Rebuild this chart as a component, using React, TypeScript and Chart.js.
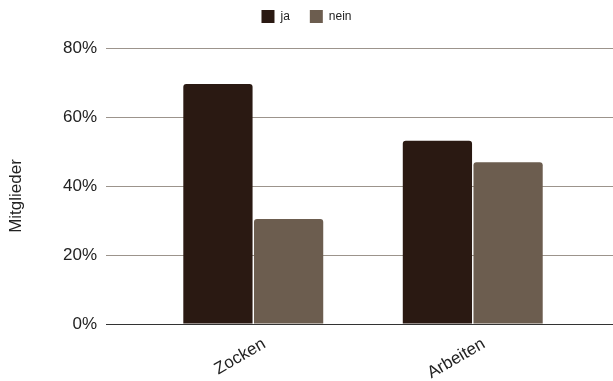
import React, { useEffect, useRef } from "react";
import { Chart, registerables } from "chart.js";

Chart.register(...registerables);

const categories = ["Zocken", "Arbeiten"];
const jaValues = [69.6, 53.1];
const neinValues = [30.4, 46.9];
const yTicks = [0, 20, 40, 60, 80];
const axisTitle = "Mitglieder";

const FONT = "'Liberation Sans', Arial, sans-serif";
const TEXT = "#222222";

// Pushes the plot area below the legend.
const legendGap = {
  id: "legendGap",
  beforeInit(chart: any) {
    const legend = chart.legend;
    if (!legend) return;
    const fit = legend.fit;
    legend.fit = function () {
      fit.call(this);
      this.height += 15;
    };
  },
};

// Rotated y-axis title, drawn at the left edge.
const yTitle = {
  id: "yTitle",
  afterDraw(chart: any) {
    const ctx = chart.ctx;
    ctx.save();
    ctx.translate(16, 196);
    ctx.rotate(-Math.PI / 2);
    ctx.font = `17px ${FONT}`;
    ctx.fillStyle = TEXT;
    ctx.textAlign = "center";
    ctx.textBaseline = "middle";
    ctx.fillText(axisTitle, 0, 0);
    ctx.restore();
  },
};

export default function App() {
  const canvasRef = useRef<HTMLCanvasElement | null>(null);

  useEffect(() => {
    if (!canvasRef.current) return;
    const chart = new Chart(canvasRef.current, {
      type: "bar",
      data: {
        datasets: [
          {
            label: "ja",
            data: jaValues.map((v, i) => ({ x: i, y: v })),
            backgroundColor: "#2a1912",
            borderRadius: { topLeft: 3, topRight: 3, bottomLeft: 0, bottomRight: 0 },
            borderSkipped: "bottom",
          },
          {
            label: "nein",
            data: neinValues.map((v, i) => ({ x: i, y: v })),
            backgroundColor: "#6c5d4f",
            borderRadius: { topLeft: 3, topRight: 3, bottomLeft: 0, bottomRight: 0 },
            borderSkipped: "bottom",
          },
        ],
      },
      options: {
        animation: false,
        responsive: true,
        maintainAspectRatio: false,
        categoryPercentage: 0.644,
        barPercentage: 0.98,
        layout: { padding: { top: -10, left: 0, right: 0, bottom: 0 } },
        plugins: {
          tooltip: { enabled: false },
          legend: {
            position: "top",
            align: "center",
            labels: {
              boxWidth: 13,
              boxHeight: 13,
              padding: 20,
              color: TEXT,
              font: { family: FONT, size: 12 },
            },
          },
        },
        scales: {
          x: {
            type: "linear",
            offset: false,
            min: -0.671,
            max: 1.639,
            grid: { display: false, drawTicks: false },
            border: { display: true, color: "#333333", width: 1 },
            afterBuildTicks(scale: any) {
              scale.ticks = categories.map((_, i) => ({ value: i }));
            },
            afterFit(scale: any) {
              scale.height = 57;
            },
            ticks: {
              callback: (v: any) => categories[v as number] ?? "",
              minRotation: 30,
              maxRotation: 30,
              labelOffset: 11,
              padding: 10,
              color: TEXT,
              font: { family: FONT, size: 17 },
            },
          },
          y: {
            min: 0,
            max: 80,
            afterBuildTicks(scale: any) {
              scale.ticks = yTicks.map((v) => ({ value: v }));
            },
            afterFit(scale: any) {
              scale.width = 106;
            },
            grid: {
              drawTicks: false,
              color: (c: any) => (c.tick && c.tick.value === 0 ? "#333333" : "#9c948c"),
            },
            border: { display: false },
            ticks: {
              padding: 9,
              color: TEXT,
              font: { family: FONT, size: 17 },
              callback: (v: any) => `${v}%`,
            },
          },
        },
      },
      plugins: [legendGap, yTitle],
    });
    return () => chart.destroy();
  }, []);

  return (
    <div style={{ position: "absolute", left: 0, top: 0, width: 613, height: 381, background: "#ffffff" }}>
      <canvas ref={canvasRef} />
    </div>
  );
}
